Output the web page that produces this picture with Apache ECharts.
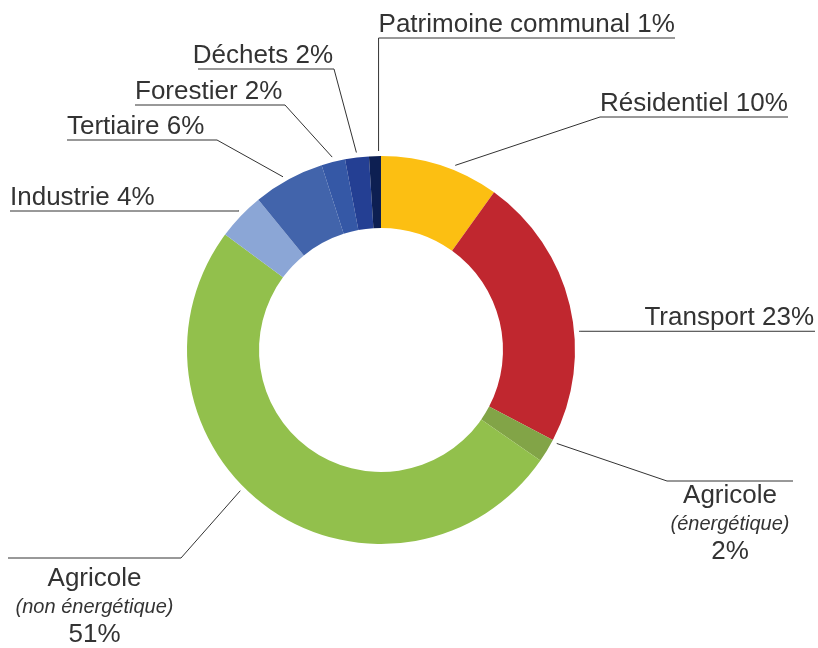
<!DOCTYPE html>
<html>
<head>
<meta charset="utf-8">
<script src="https://cdn.jsdelivr.net/npm/echarts@6/dist/echarts.min.js"></script>
<style>
  html, body { margin: 0; padding: 0; background: #fff; }
  #main { width: 818px; height: 648px; }
</style>
</head>
<body>
<div id="main"></div>
<script>
// secteurs, dans le sens horaire depuis midi
var categories = ['Résidentiel', 'Transport', 'Agricole', 'Agricole', 'Industrie',
  'Tertiaire', 'Forestier', 'Déchets', 'Patrimoine communal'];
var qualifiers = ['', '', 'énergétique', 'non énergétique', '', '', '', '', ''];
var values = [10, 23, 2, 51, 4, 6, 2, 2, 1];

var colors = ['#fcbf12', '#c0272f', '#82a447', '#92c04c', '#8ba6d6',
  '#4264ab', '#3558a6', '#243f93', '#0d1f52'];

var CX = 381, CY = 350, R_IN = 122, R_OUT = 194, R_LINE = 199;

// position des étiquettes : angle d'accroche (degrés depuis midi), coude, fin de trait
var labelPos = [
  { angle: 21.9, elbow: [600, 117], end: 788, align: 'left' },
  { angle: 84.6, elbow: [600, 332], end: 815, align: 'right' },
  { angle: 118, elbow: [667, 481], end: 793, align: 'center', dy: 0 },
  { angle: 225, elbow: [181, 558], end: 8, align: 'center', dy: 6 },
  { angle: -45.6, elbow: [239, 211], end: 10, align: 'left' },
  { angle: -29.5, elbow: [217, 140], end: 67, align: 'left' },
  { angle: -14.2, elbow: [285, 105], end: 135, align: 'left' },
  { angle: -7.1, elbow: [334, 69], end: 198, align: 'right' },
  { angle: -0.7, elbow: [379, 38], end: 675, align: 'left' }
];

var chart = echarts.init(document.getElementById('main'), null, { renderer: 'canvas' });

var data = categories.map(function (name, i) {
  return {
    name: name,
    value: values[i],
    itemStyle: { color: colors[i] }
  };
});

function attachPoint(deg) {
  var a = deg * Math.PI / 180;
  return [CX + R_LINE * Math.sin(a), CY - R_LINE * Math.cos(a)];
}

function layoutLabel(params) {
  var lp = labelPos[params.dataIndex];
  var start = attachPoint(lp.angle);
  var elbow = lp.elbow.slice();
  if (params.dataIndex === 8) elbow[0] = start[0];
  if (params.dataIndex === 1) elbow = [start[0] + 1, start[1]];
  var lineY = elbow[1];
  var points = [start, elbow, [lp.end, lineY]];
  var lo = Math.min(elbow[0], lp.end), hi = Math.max(elbow[0], lp.end);
  var res = { labelLinePoints: points, hideOverlap: false, moveOverlap: null };
  if (lp.align === 'center') {
    res.x = (lo + hi) / 2;
    res.y = lineY + 1 + (lp.dy || 0);
    res.align = 'center';
    res.verticalAlign = 'top';
  } else if (lp.align === 'left') {
    res.x = lo;
    res.y = lineY + 1;
    res.align = 'left';
    res.verticalAlign = 'bottom';
  } else {
    res.x = hi - 1;
    res.y = lineY + 1;
    res.align = 'right';
    res.verticalAlign = 'bottom';
  }
  return res;
}

var option = {
  backgroundColor: '#ffffff',
  animation: false,
  series: [{
    type: 'pie',
    center: [CX, CY],
    radius: [R_IN, R_OUT],
    startAngle: 90,
    clockwise: true,
    avoidLabelOverlap: false,
    data: data,
    label: {
      show: true,
      position: 'outside',
      fontFamily: 'Liberation Sans',
      fontSize: 26,
      color: '#333',
      lineHeight: 28,
      formatter: function (p) {
        var q = qualifiers[p.dataIndex];
        if (q) {
          return p.name + '\n{i|(' + q + ')}\n' + p.value + '%';
        }
        return p.name + ' ' + p.value + '%';
      },
      rich: {
        i: {
          fontFamily: 'Liberation Sans',
          fontStyle: 'italic',
          fontSize: 20,
          lineHeight: 28,
          color: '#333'
        }
      }
    },
    labelLine: {
      show: true,
      smooth: false,
      lineStyle: { color: '#333', width: 1 }
    },
    labelLayout: layoutLabel,
    emphasis: { disabled: true }
  }]
};

chart.setOption(option);
</script>
</body>
</html>
